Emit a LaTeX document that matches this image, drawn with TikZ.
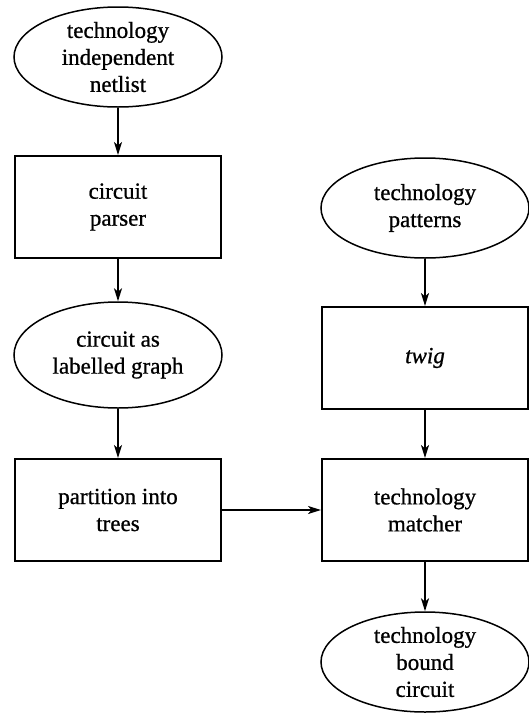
\documentclass[tikz,border=0pt]{standalone}
\usepackage{fontspec}
\setmainfont{Liberation Serif}[FakeBold=0.8]
\usetikzlibrary{arrows.meta,shapes.geometric}

\begin{document}
\begin{tikzpicture}[x=1pt, y=-1pt, >={Stealth[length=13pt,width=8pt,inset=3.5pt]},
    every node/.style={font=\fontsize{23}{27}\selectfont, align=center, inner sep=0pt},
    procbox/.style={draw, line width=2pt, minimum width=206pt, minimum height=102pt},
    dataoval/.style={draw, ellipse, line width=1.5pt, minimum width=208pt, minimum height=100pt},
    flow/.style={->, line width=2pt}]
  \useasboundingbox (0,0) rectangle (529,713);
  % left column
  \node[dataoval] (netlist) at (118,57) {technology\\independent\\netlist};
  \node[procbox] (parser) at (118,207) {circuit\\parser};
  \node[dataoval, minimum height=106pt] (graph) at (118,355) {circuit as\\labelled graph};
  \node[procbox] (partition) at (118,510) {partition into\\trees};
  % right column
  \node[dataoval] (patterns) at (425,208) {technology\\patterns};
  \node[procbox] (twig) at (425,358) {\textit{twig}};
  \node[procbox] (matcher) at (425,510) {technology\\matcher};
  \node[dataoval] (bound) at (425,662) {technology\\bound\\circuit};
  \draw[flow] (netlist) -- (parser);
  \draw[flow] (parser) -- (graph);
  \draw[flow] (graph) -- (partition);
  \draw[flow] (patterns) -- (twig);
  \draw[flow] (twig) -- (matcher);
  \draw[flow] (partition) -- (matcher);
  \draw[flow] (matcher) -- (bound);
\end{tikzpicture}
\end{document}
